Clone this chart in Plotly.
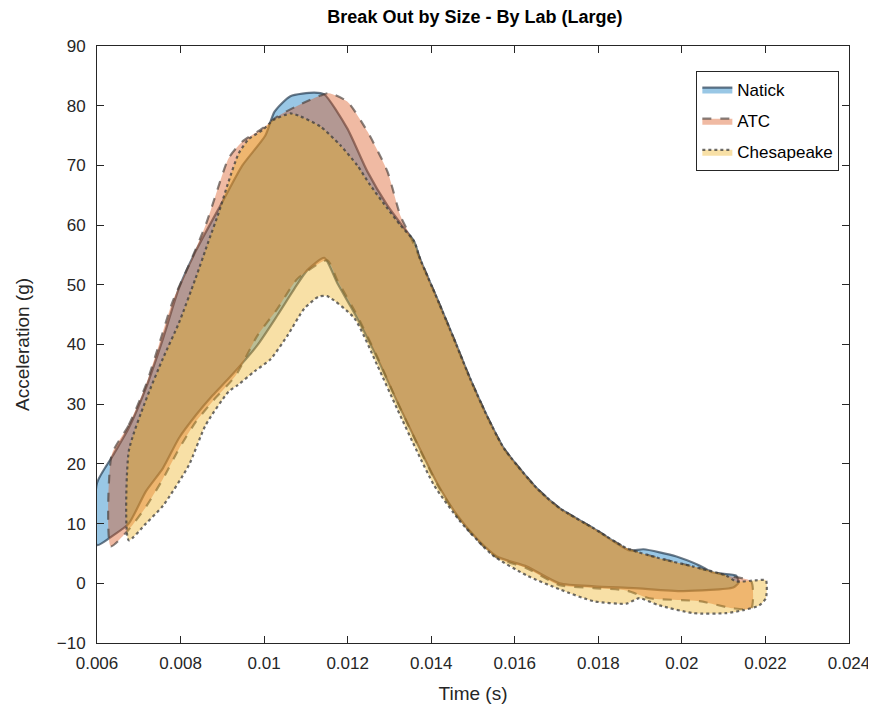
import plotly.graph_objects as go

# Natick band
natick_up_t = [0.00600, 0.00638, 0.00676, 0.00717, 0.00758, 0.00796, 0.00836, 0.00901, 0.00948,
               0.01003, 0.01025, 0.01063, 0.01120, 0.01144, 0.01199, 0.01247, 0.01295, 0.01335,
               0.01359, 0.01373, 0.01414, 0.01454, 0.01493, 0.01533, 0.01574, 0.01653, 0.01707,
               0.01789, 0.01875, 0.01908, 0.01987, 0.02042, 0.02075, 0.02130, 0.02135]
natick_up_a = [16.8, 21.4, 26.0, 32.7, 41.0, 49.4, 55.6, 64.0, 70.0,
               75.0, 79.0, 81.6, 82.2, 81.9, 76.2, 69.0, 63.3, 59.5,
               57.3, 54.4, 47.7, 41.0, 34.3, 28.1, 22.6, 15.9, 12.6,
               9.2, 5.5, 5.7, 4.5, 3.0, 1.8, 1.3, 0.5]
natick_lo_t = [0.02135, 0.02123, 0.02003, 0.01884, 0.01789, 0.01707, 0.01629, 0.01557, 0.01509,
               0.01462, 0.01414, 0.01366, 0.01318, 0.01271, 0.01223, 0.01175, 0.01144, 0.01104,
               0.01073, 0.01032, 0.00984, 0.00915, 0.00877, 0.00836, 0.00796, 0.00758, 0.00717,
               0.00676, 0.00638, 0.00600]
natick_lo_a = [0.0, -0.7, -1.3, -0.8, -0.5, 0.0, 2.8, 4.5, 7.5,
               11.4, 16.8, 23.5, 30.5, 37.7, 44.4, 50.3, 54.5, 52.5,
               49.4, 44.9, 39.9, 34.3, 31.5, 28.1, 24.3, 19.3, 15.4,
               10.0, 8.0, 6.4]

# ATC band
atc_up_t = [0.00635, 0.00676, 0.00717, 0.00748, 0.00781, 0.00820, 0.00860, 0.00884, 0.00915,
            0.00948, 0.00996, 0.01032, 0.01080, 0.01135, 0.01155, 0.01199, 0.01247, 0.01295,
            0.01326, 0.01349, 0.01373, 0.01414, 0.01454, 0.01493, 0.01533, 0.01574, 0.01653,
            0.01707, 0.01789, 0.01867, 0.01946, 0.02027, 0.02106, 0.02166]
atc_up_a = [21.5, 26.5, 33.2, 39.9, 47.2, 53.3, 60.0, 65.0, 71.2,
            74.0, 76.2, 78.2, 80.0, 81.7, 82.1, 80.7, 75.7, 69.0,
            61.6, 58.3, 54.4, 47.7, 41.0, 34.3, 28.1, 22.6, 15.9,
            12.6, 9.2, 5.9, 4.2, 2.8, 1.3, 0.3]
atc_lo_t = [0.02166, 0.02123, 0.02042, 0.01922, 0.01867, 0.01789, 0.01707, 0.01629, 0.01557,
            0.01509, 0.01462, 0.01414, 0.01366, 0.01318, 0.01271, 0.01223, 0.01175, 0.01151,
            0.01080, 0.01032, 0.00984, 0.00932, 0.00877, 0.00836, 0.00796, 0.00758, 0.00717,
            0.00676, 0.00633]
atc_lo_a = [-4.2, -4.2, -3.0, -2.5, -1.2, -0.8, -0.3, 2.5, 4.3,
            7.3, 11.2, 16.6, 23.4, 30.5, 37.9, 44.8, 50.8, 54.1,
            51.0, 46.0, 41.5, 34.8, 30.5, 27.0, 22.5, 17.5, 12.8,
            9.0, 6.2]

# Chesapeake band
ches_up_t = [0.00676, 0.00717, 0.00758, 0.00796, 0.00836, 0.00867, 0.00891,
             0.00915, 0.00939, 0.00963, 0.00996, 0.01022, 0.01063, 0.01087, 0.01135, 0.01182,
             0.01223, 0.01254, 0.01295, 0.01326, 0.01359, 0.01373, 0.01414, 0.01454, 0.01493,
             0.01533, 0.01574, 0.01653, 0.01707, 0.01789, 0.01867, 0.01946, 0.02027, 0.02106,
             0.02130, 0.02178, 0.02201]
ches_up_a = [22.1, 30.7, 37.7, 43.6, 51.1, 57.3, 62.0,
             67.3, 72.0, 74.4, 75.9, 77.6, 78.7, 78.2, 76.5, 73.4,
             70.0, 66.7, 62.8, 60.0, 57.3, 54.4, 47.7, 41.0, 34.3,
             28.1, 22.6, 15.9, 12.6, 9.2, 5.9, 4.2, 2.8, 1.3,
             0.3, 0.5, 0.5]
ches_lo_t = [0.02201, 0.02185, 0.02147, 0.02106, 0.02027, 0.01946, 0.01898, 0.01867, 0.01789,
             0.01707, 0.01629, 0.01547, 0.01469, 0.01407, 0.01366, 0.01318, 0.01271, 0.01216,
             0.01151, 0.01130, 0.01096, 0.01056, 0.01015, 0.00977, 0.00937, 0.00915, 0.00860,
             0.00820, 0.00758, 0.00717, 0.00676]
ches_lo_a = [-2.5, -3.7, -4.5, -5.0, -5.0, -3.7, -2.5, -3.4, -3.0,
             -1.0, 1.3, 4.7, 10.4, 16.4, 22.1, 29.3, 36.5, 44.4,
             48.1, 48.0, 46.0, 41.5, 37.5, 35.5, 33.2, 32.1, 26.5,
             19.8, 13.0, 10.0, 7.2]

labs = ["Natick", "ATC", "Chesapeake"]
fills = ["rgba(0,114,189,0.4)", "rgba(217,83,25,0.4)", "rgba(237,177,32,0.4)"]
edges = ["rgba(30,50,70,0.65)", "rgba(70,60,55,0.65)", "rgba(60,60,60,0.75)"]
dashes = ["solid", "dash", "dot"]

x_ticks = [0.006, 0.008, 0.010, 0.012, 0.014, 0.016, 0.018, 0.020, 0.022, 0.024]
x_labels = ["0.006", "0.008", "0.01", "0.012", "0.014", "0.016", "0.018", "0.02", "0.022", "0.024"]

bands = [
    (natick_up_t, natick_up_a, natick_lo_t, natick_lo_a),
    (atc_up_t, atc_up_a, atc_lo_t, atc_lo_a),
    (ches_up_t, ches_up_a, ches_lo_t, ches_lo_a),
]

fig = go.Figure()
for name, band, fc, ec, ds in zip(labs, bands, fills, edges, dashes):
    ut, ua, lt, la = band
    xs = ut + lt + [ut[0]]
    ys = ua + la + [ua[0]]
    fig.add_trace(go.Scatter(
        x=xs, y=ys, name=name, legendgroup=name, mode="lines", fill="toself", fillcolor=fc,
        line=dict(color=ec, width=2.2, dash=ds, shape="spline", smoothing=0.6),
    ))

font = "Liberation Sans, Arial, sans-serif"
axis_common = dict(
    showline=True, linecolor="#262626", linewidth=1, mirror="ticks",
    ticks="inside", ticklen=7, tickcolor="#262626", showgrid=False, zeroline=False,
    tickfont=dict(family=font, size=17, color="#262626"),
)
fig.update_layout(
    width=876, height=715,
    margin=dict(l=89, r=35, t=38, b=80),
    paper_bgcolor="white", plot_bgcolor="white",
    title=dict(text="<b>Break Out by Size - By Lab (Large)</b>", x=0.533, xanchor="center",
               y=0.997, yanchor="top", font=dict(family=font, size=18, color="black")),
    xaxis=dict(range=[0.006, 0.024], tickvals=x_ticks, ticktext=x_labels, ticklabelstandoff=5,
               title=dict(text="Time (s)", font=dict(family=font, size=19, color="#262626"), standoff=14),
               **axis_common),
    yaxis=dict(range=[-10, 90], dtick=10, ticklabelstandoff=7,
               title=dict(text="Acceleration (g)", font=dict(family=font, size=19, color="#262626"), standoff=22),
               **axis_common),
    legend=dict(x=0.797, y=0.958, xanchor="left", yanchor="top", bgcolor="white",
                bordercolor="#262626", borderwidth=1, tracegroupgap=6,
                font=dict(family=font, size=17, color="black")),
    showlegend=True,
)

fig.write_html("out.html")
